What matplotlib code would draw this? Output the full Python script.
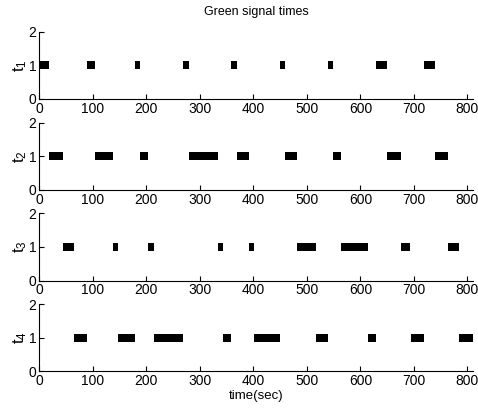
import matplotlib as mpl
mpl.use('Agg')
from matplotlib import pyplot as plt

# green intervals (start, end) in seconds for each signal
t1_on = [(0, 18), (90, 104), (179, 188), (269, 279), (358, 370),
         (450, 459), (540, 549), (629, 650), (719, 739)]
t2_on = [(18, 44), (104, 138), (188, 203), (280, 334), (370, 392),
         (459, 482), (549, 564), (650, 676), (739, 764)]
t3_on = [(44, 65), (138, 147), (203, 214), (334, 343), (392, 401),
         (482, 517), (564, 614), (676, 693), (764, 784)]
t4_on = [(65, 89), (147, 179), (214, 269), (343, 358), (401, 450),
         (517, 540), (614, 629), (694, 719), (784, 810)]

signals = [t1_on, t2_on, t3_on, t4_on]
ylabels = ['t_1', 't_2', 't_3', 't_4']
xticks = [0, 100, 200, 300, 400, 500, 600, 700, 800]

plt.rcParams['font.family'] = ['Liberation Sans', 'DejaVu Sans']
plt.rcParams['font.size'] = 10
plt.rcParams['mathtext.fontset'] = 'custom'
plt.rcParams['mathtext.rm'] = 'Liberation Sans'
plt.rcParams['mathtext.it'] = 'Liberation Sans'

fig = plt.figure(figsize=(4.78, 4.12), dpi=100)
bottoms = [0.760, 0.539, 0.319, 0.0985]

for i, (on, lab) in enumerate(zip(signals, ylabels)):
    ax = fig.add_axes([0.0822, bottoms[i], 0.907, 0.163])
    ax.broken_barh([(s, e - s) for s, e in on], (0.88, 0.24), facecolors='k')
    ax.set_xlim(0, 810)
    ax.set_ylim(0, 2)
    ax.set_xticks(xticks)
    ax.set_yticks([0, 1, 2])
    ax.spines['top'].set_visible(False)
    ax.spines['right'].set_visible(False)
    ax.tick_params(direction='in', length=3.5, pad=2)
    ax.set_ylabel(r'$\mathregular{' + lab + '}$', fontsize=12, labelpad=0)
    if i == 0:
        ax.set_title('Green signal times', fontsize=9, pad=12)
    if i == 3:
        ax.set_xlabel('time(sec)', fontsize=9.5, labelpad=1)

fig.savefig('out.png', dpi=100)
